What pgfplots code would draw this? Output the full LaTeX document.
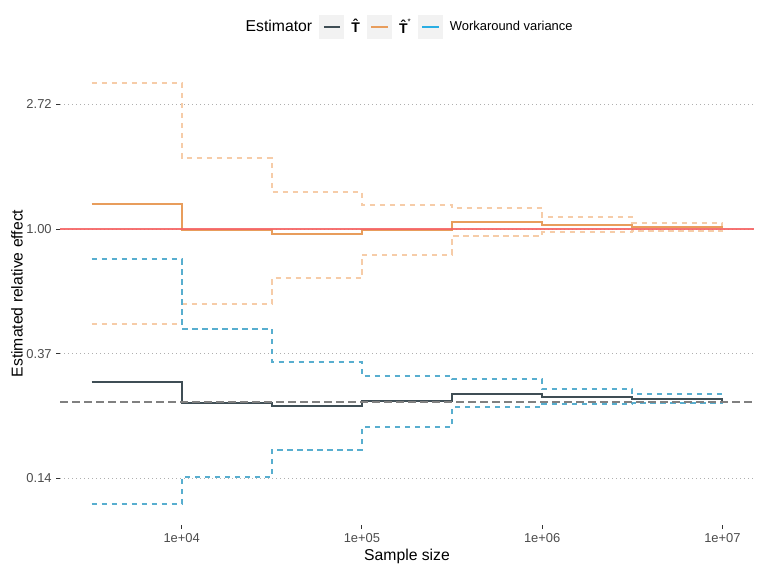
\documentclass[border=0pt]{standalone}
\usepackage{fontspec}
\setmainfont{Liberation Sans}
\usepackage{pgfplots}
\pgfplotsset{compat=1.18}
\definecolor{darkc}{RGB}{63,78,85}
\definecolor{orangec}{RGB}{232,157,92}
\definecolor{orangelt}{RGB}{246,204,168}
\definecolor{bluedash}{RGB}{88,174,207}
\definecolor{bluekey}{RGB}{42,174,227}
\definecolor{redc}{RGB}{245,100,100}
\definecolor{greyref}{RGB}{128,128,128}
\definecolor{gridc}{RGB}{175,175,175}
\definecolor{keybg}{RGB}{242,242,242}
\newcommand{\hatT}{{\fontsize{10.5}{11}\selectfont\bfseries\^{T}}}
\pgfplotsset{
  legkey/.style={line width=1.4pt,
    legend image code/.code={
      \fill[keybg] (0pt,-8.64pt) rectangle (17.28pt,8.64pt);
      \draw[##1] (2.5pt,0pt) -- (14.78pt,0pt);}},
}
\begin{document}
\begin{tikzpicture}
\begin{axis}[
  name=ax,
  scale only axis, width=520.5pt, height=347.25pt,
  xmode=log, xmin=2113.5, xmax=14962357,
  ymin=-2.374, ymax=1.340,
  axis x line*=bottom, axis y line*=left,
  axis line style={draw=none},
  xtick={1e4,1e5,1e6,1e7}, xticklabels={1e+04,1e+05,1e+06,1e+07},
  ytick={-2,-1,0,1}, yticklabels={0.14,0.37,1.00,2.72},
  xminorticks=false, yminorticks=false,
  tick align=outside, major tick length=2.75pt,
  tick style={black!80, line width=0.75pt},
  ymajorgrids,
  major grid style={gridc, line width=0.8pt, dash pattern=on 0.8pt off 2.2pt},
  /pgf/number format/assume math mode=true,
  ticklabel style={font=\fontsize{9.7}{11}\selectfont, text=black!70},
  label style={font=\fontsize{11.8}{14}\selectfont, text=black},
  xlabel={Sample size}, ylabel={Estimated relative effect},
  xlabel style={at={(axis description cs:0.5,0)}, anchor=center, yshift=-23.25pt},
  ylabel style={at={(axis description cs:0,0.5)}, anchor=center, yshift=32.25pt},
  legend columns=-1,
  legend style={at={(axis description cs:0.5,1)}, anchor=center, yshift=26.25pt,
    draw=none, fill=none, inner sep=0pt,
    font=\fontsize{9.7}{11}\selectfont,
    nodes={inner sep=2pt, anchor=west},
    /tikz/every odd column/.append style={column sep=3.2pt},
    /tikz/every even column/.append style={column sep=3.5pt}},
]
% T* CI (orange dashed)
\addplot[const plot, forget plot, orangelt, line width=1.5pt, dash pattern=on 4pt off 3.5pt] coordinates {
(3162.28,1.171) (10000,0.569) (31622.8,0.297) (100000,0.192) (316228,0.168) (1000000,0.096) (3162278,0.048) (10000000,0.018)};
\addplot[const plot, forget plot, orangelt, line width=1.5pt, dash pattern=on 4pt off 3.5pt] coordinates {
(3162.28,-0.764) (10000,-0.604) (31622.8,-0.395) (100000,-0.206) (316228,-0.056) (1000000,-0.027) (3162278,-0.016) (10000000,-0.008)};
% workaround variance CI (blue dashed)
\addplot[const plot, forget plot, bluedash, line width=1.5pt, dash pattern=on 4pt off 3.5pt] coordinates {
(3162.28,-0.243) (10000,-0.799) (31622.8,-1.069) (100000,-1.181) (316228,-1.205) (1000000,-1.285) (3162278,-1.323) (10000000,-1.350)};
\addplot[const plot, forget plot, bluedash, line width=1.5pt, dash pattern=on 4pt off 3.5pt] coordinates {
(3162.28,-2.205) (10000,-1.991) (31622.8,-1.770) (100000,-1.590) (316228,-1.430) (1000000,-1.403) (3162278,-1.393) (10000000,-1.385)};
% T hat
\addplot[const plot, forget plot, darkc, line width=1.5pt] coordinates {
(3162.28,-1.227) (10000,-1.395) (31622.8,-1.417) (100000,-1.383) (316228,-1.321) (1000000,-1.345) (3162278,-1.363) (10000000,-1.378)};
% T star
\addplot[const plot, forget plot, orangec, line width=1.5pt] coordinates {
(3162.28,0.200) (10000,-0.010) (31622.8,-0.043) (100000,-0.008) (316228,0.054) (1000000,0.035) (3162278,0.016) (10000000,0.010)};
% reference lines
\addplot[forget plot, greyref, line width=1.1pt, dash pattern=on 6pt off 3pt] coordinates {(2113.5,-1.386) (14962357,-1.386)};
\addplot[forget plot, redc, line width=1.5pt, opacity=0.9] coordinates {(2113.5,0) (14962357,0)};
% legend
\addlegendimage{empty legend}
\addlegendentry{\fontsize{11.8}{14}\selectfont Estimator}
\addlegendimage{legkey, darkc}
\addlegendentry{\hatT}
\addlegendimage{legkey, orangec}
\addlegendentry{\hatT\raisebox{7pt}{\fontsize{6}{6}\selectfont *}}
\addlegendimage{legkey, bluekey}
\addlegendentry{Workaround variance}
\end{axis}
\pgfresetboundingbox
\path[use as bounding box] ([shift={(-45pt,-35.25pt)}]ax.south west) rectangle ([shift={(6.75pt,46.5pt)}]ax.north east);
\end{tikzpicture}
\end{document}
